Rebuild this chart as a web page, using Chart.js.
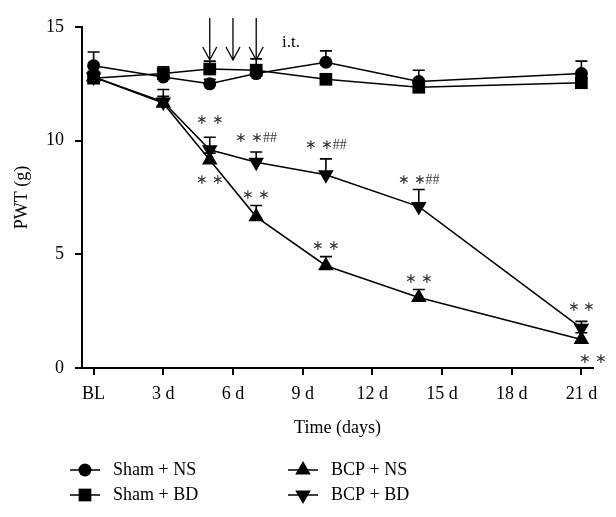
<!DOCTYPE html>
<html>
<head>
<meta charset="utf-8">
<script src="https://cdn.jsdelivr.net/npm/chart.js@4"></script>
<style>
  html, body { margin: 0; padding: 0; background: #fff; }
  #wrap { width: 616px; height: 517px; }
</style>
</head>
<body>
<div id="wrap"><canvas id="pwt-chart" width="616" height="517"></canvas></div>
<script>
// days after operation (BL = 0)
var days = [0, 3, 5, 7, 10, 14, 21];
var xTickValues = [0, 3, 6, 9, 12, 15, 18, 21];
var xTickLabels = ['BL', '3 d', '6 d', '9 d', '12 d', '15 d', '18 d', '21 d'];
var yTickValues = [0, 5, 10, 15];

var shamNS = [13.3, 12.8, 12.5, 12.95, 13.45, 12.6, 12.95];
var shamNSErr = [0.6, 0.3, 0.2, 0.2, 0.5, 0.5, 0.55];
var shamBD = [12.75, 12.95, 13.15, 13.1, 12.7, 12.35, 12.55];
var shamBDErr = [0.3, 0.3, 0.35, 0.5, 0.2, 0.25, 0.2];
var bcpNS = [12.8, 11.65, 9.15, 6.65, 4.5, 3.1, 1.25];
var bcpNSErr = [0.2, 0.3, 0.3, 0.5, 0.4, 0.35, 0.3];
var bcpBD = [12.8, 11.7, 9.6, 9.05, 8.5, 7.1, 1.75];
var bcpBDErr = [0.2, 0.55, 0.55, 0.45, 0.7, 0.75, 0.3];

// significance marks: day, PWT level, text
var markDays = [5, 5, 7, 7, 10, 10, 14, 14, 21, 21.5];
var markLevels = [10.9, 8.25, 10.1, 7.6, 9.8, 5.35, 8.25, 3.9, 2.65, 0.4];
var markTexts = ['∗ ∗', '∗ ∗', '∗ ∗##', '∗ ∗', '∗ ∗##', '∗ ∗', '∗ ∗##', '∗ ∗', '∗ ∗', '∗ ∗'];
// intrathecal injections
var injectionDays = [5, 6, 7];

var FONT = "'Liberation Serif', 'Times New Roman', serif";

function pts(ys) {
    return days.map(function (d, i) { return { x: d, y: ys[i] }; });
}

function series(label, ys, errs, style, rot, r) {
    return {
        label: label,
        data: pts(ys),
        errors: errs,
        borderColor: '#000',
        backgroundColor: '#000',
        borderWidth: 1.5,
        pointStyle: style,
        pointRotation: rot,
        pointRadius: r,
        pointBorderWidth: 0,
        tension: 0,
        fill: false
    };
}

var errorBars = {
    id: 'errorBars',
    beforeDatasetsDraw: function (chart) {
        var ctx = chart.ctx;
        var ys = chart.scales.y;
        ctx.save();
        ctx.strokeStyle = '#000';
        ctx.lineWidth = 1.6;
        chart.data.datasets.forEach(function (ds, i) {
            var meta = chart.getDatasetMeta(i);
            meta.data.forEach(function (pt, j) {
                var v = ds.data[j].y;
                var top = ys.getPixelForValue(v + ds.errors[j]);
                ctx.beginPath();
                ctx.moveTo(pt.x, pt.y);
                ctx.lineTo(pt.x, top);
                ctx.moveTo(pt.x - 6, top);
                ctx.lineTo(pt.x + 6, top);
                ctx.stroke();
            });
        });
        ctx.restore();
    }
};

var extras = {
    id: 'extras',
    afterDraw: function (chart) {
        var ctx = chart.ctx;
        var xs = chart.scales.x, ys = chart.scales.y;
        ctx.save();
        ctx.fillStyle = '#000';
        ctx.strokeStyle = '#000';

        // star / hash marks
        ctx.fillStyle = '#333';
        ctx.font = '14px ' + FONT;
        ctx.textAlign = 'center';
        ctx.textBaseline = 'middle';
        markDays.forEach(function (d, i) {
            ctx.fillText(markTexts[i], xs.getPixelForValue(d), ys.getPixelForValue(markLevels[i]));
        });
        ctx.fillStyle = '#000';

        // arrows for i.t. injections
        ctx.lineWidth = 1.3;
        injectionDays.forEach(function (d) {
            var x = xs.getPixelForValue(d);
            var y0 = ys.getPixelForValue(15.4);
            var y1 = ys.getPixelForValue(13.55);
            ctx.beginPath();
            ctx.moveTo(x, y0);
            ctx.lineTo(x, y1);
            ctx.moveTo(x - 7, y1 - 13);
            ctx.lineTo(x, y1);
            ctx.lineTo(x + 7, y1 - 13);
            ctx.stroke();
        });
        ctx.font = '17px ' + FONT;
        ctx.fillText('i.t.', xs.getPixelForValue(8.5), ys.getPixelForValue(14.3));

        // legend, two columns
        var cols = [85, 303];
        var rows = [470, 495];
        ctx.font = '18px ' + FONT;
        ctx.textAlign = 'left';
        chart.data.datasets.forEach(function (ds, i) {
            var cx = cols[Math.floor(i / 2)];
            var cy = rows[i % 2];
            ctx.lineWidth = 1.5;
            ctx.beginPath();
            ctx.moveTo(cx - 15, cy);
            ctx.lineTo(cx + 15, cy);
            ctx.stroke();
            Chart.helpers.drawPoint(ctx, {
                pointStyle: ds.pointStyle,
                rotation: ds.pointRotation,
                radius: ds.pointRadius,
                borderWidth: 0
            }, cx, cy);
            ctx.fillText(ds.label, cx + 28, cy);
        });
        ctx.restore();
    }
};

var ctx = document.getElementById('pwt-chart').getContext('2d');
var myChart = new Chart(ctx, {
    type: 'line',
    data: {
        datasets: [
            series('Sham + NS', shamNS, shamNSErr, 'circle', 0, 6.5),
            series('Sham + BD', shamBD, shamBDErr, 'rect', 0, 9),
            series('BCP + NS', bcpNS, bcpNSErr, 'triangle', 0, 9),
            series('BCP + BD', bcpBD, bcpBDErr, 'triangle', 180, 9)
        ]
    },
    options: {
        responsive: false,
        animation: false,
        layout: { padding: { top: 27, right: 23, bottom: 0, left: 0 } },
        plugins: {
            legend: { display: false },
            tooltip: { enabled: false }
        },
        scales: {
            x: {
                type: 'linear',
                min: -0.5,
                max: 21.5,
                afterBuildTicks: function (scale) {
                    scale.ticks = xTickValues.map(function (v) { return { value: v }; });
                },
                afterFit: function (scale) { scale.height = 149; },
                ticks: {
                    color: '#000',
                    font: { family: FONT, size: 18 },
                    padding: 8,
                    maxRotation: 0,
                    callback: function (v) {
                        var k = xTickValues.indexOf(v);
                        return k >= 0 ? xTickLabels[k] : '';
                    }
                },
                grid: { drawOnChartArea: false, drawTicks: true, tickLength: 7, color: '#000', lineWidth: 2 },
                border: { display: true, color: '#000', width: 2 },
                title: {
                    display: true,
                    text: 'Time (days)',
                    color: '#000',
                    font: { family: FONT, size: 18 },
                    padding: { top: 0, bottom: 78 }
                }
            },
            y: {
                min: 0,
                max: 15,
                afterBuildTicks: function (scale) {
                    scale.ticks = yTickValues.map(function (v) { return { value: v }; });
                },
                afterFit: function (scale) { scale.width = 82; },
                ticks: {
                    color: '#000',
                    font: { family: FONT, size: 18 },
                    padding: 11
                },
                grid: { drawOnChartArea: false, drawTicks: true, tickLength: 7, color: '#000', lineWidth: 2 },
                border: { display: true, color: '#000', width: 2 },
                title: {
                    display: true,
                    text: 'PWT (g)',
                    color: '#000',
                    font: { family: FONT, size: 18 },
                    padding: { top: 11, bottom: 0 }
                }
            }
        }
    },
    plugins: [errorBars, extras]
});
</script>
</body>
</html>
